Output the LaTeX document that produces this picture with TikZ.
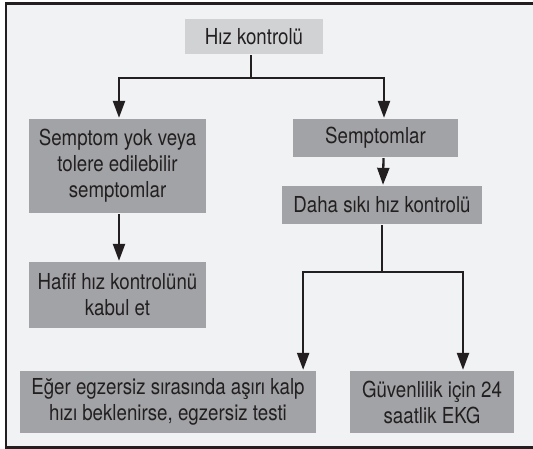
\documentclass[tikz,border=0pt]{standalone}
\usepackage{fontspec}
\setmainfont{TeX Gyre Heros}[FakeStretch=0.85]
\usetikzlibrary{arrows.meta}
\definecolor{panel}{HTML}{F1F2F4}
\definecolor{lightbox}{HTML}{D1D2D4}
\definecolor{darkbox}{HTML}{A2A3A6}
\definecolor{ink}{HTML}{231F20}
\begin{document}
\begin{tikzpicture}[x=1pt,y=-1pt,line width=2.3pt,
  box/.style={fill=darkbox,text=ink,inner sep=0pt,align=center,
    font=\fontsize{22}{26}\selectfont},
  topbox/.style={box,fill=lightbox},
  arr/.style={draw=ink,-{Triangle[length=17pt,width=12pt]}},
  link/.style={draw=ink}]
 \useasboundingbox (0,0) rectangle (533,449);
 \clip (0,0) rectangle (533,449);
 % the frame runs off the right edge of the page
 \draw[ink,fill=panel] (6,3.5) rectangle (560,447.5);
 \node[topbox,minimum width=138pt,minimum height=35pt] (rate) at (254,36.5) {Hız kontrolü};
 \node[box,minimum width=177pt,minimum height=94pt] (nosym) at (117.5,166)
   {Semptom yok veya\\tolere edilebilir\\semptomlar};
 \node[box,minimum width=165pt,minimum height=38pt] (sym) at (375.5,138) {Semptomlar};
 \node[box,minimum width=200pt,minimum height=38pt] (strict) at (382,205) {Daha sıkı hız kontrolü};
 \node[box,minimum width=177pt,minimum height=66pt] (lenient) at (117.5,295)
   {Hafif hız kontrolünü\\kabul et};
 \node[box,minimum width=296pt,minimum height=62pt] (exer) at (168,402)
   {Eğer egzersiz sırasında aşırı kalp\\hızı beklenirse, egzersiz testi};
 \node[box,minimum width=164pt,minimum height=62pt] (ekg) at (432,402)
   {Güvenlilik için 24\\saatlik EKG};
 \coordinate (fork1) at ([xshift=-3pt]rate.south |- 0,78);
 \draw[link] ([xshift=-3pt]rate.south) -- (fork1);
 \draw[arr] (fork1) -| ([xshift=1.5pt]nosym.north);
 \draw[arr] (fork1) -| ([xshift=8.5pt]sym.north);
 \draw[arr] ([xshift=1.5pt]nosym.south) -- ([xshift=1.5pt]lenient.north);
 \draw[arr] ([xshift=8pt]sym.south) -- ([xshift=1pt]strict.north);
 \coordinate (fork2) at (strict.south |- 0,272);
 \draw[link] (strict.south) -- (fork2);
 \draw[arr] (fork2) -| ([xshift=-14pt]exer.north east);
 \draw[arr] (fork2) -| ([xshift=31pt]ekg.north);
\end{tikzpicture}
\end{document}
